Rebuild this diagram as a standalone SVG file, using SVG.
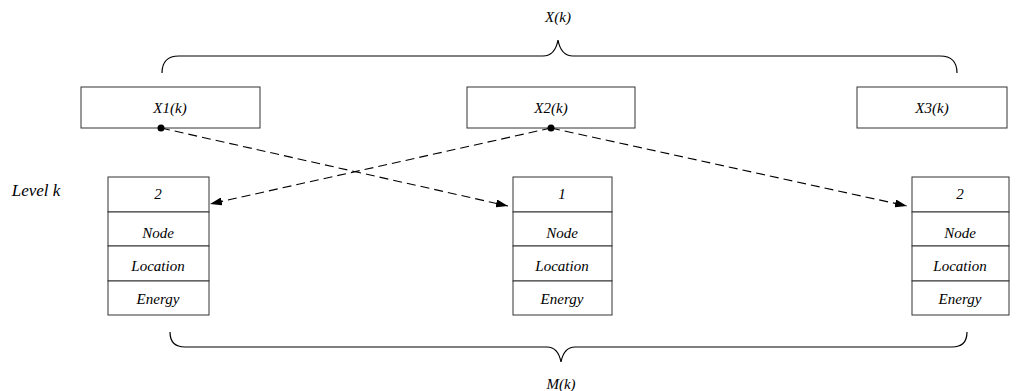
<svg xmlns="http://www.w3.org/2000/svg" width="1028" height="391" viewBox="0 0 1028 391">
<defs>
<style>
text{font-family:"Liberation Serif","Times New Roman",serif;font-style:italic;font-size:15px;fill:#000;text-anchor:middle}
.box{fill:#fff;stroke:#333;stroke-width:1}
.brace{fill:none;stroke:#000;stroke-width:1.2}
.dash{fill:none;stroke:#000;stroke-width:1.1;stroke-dasharray:9,5}
</style>
<marker id="ah" markerWidth="12" markerHeight="8" refX="12" refY="4" orient="auto" markerUnits="userSpaceOnUse">
<path d="M0,0 L12,4 L0,8 Z" fill="#000"/>
</marker>
</defs>
<rect width="1028" height="391" fill="#fff"/>
<g id="braces">
<path class="brace" d="M162,73 Q162,56 179,56 H543 Q555,56 558,40 Q561,56 573,56 H940 Q957,56 957,73"/>
<text x="558" y="22">X(k)</text>
<path class="brace" d="M170,332 Q170,347 185,347 H547 Q558,347 561,362 Q564,347 575,347 H952 Q967,347 967,332"/>
<text x="561" y="389">M(k)</text>
</g>
<text x="36" y="196" style="font-size:17px">Level k</text>
<g id="x1">
<rect class="box" x="81" y="87" width="179" height="41"/>
<text x="170" y="113">X1(k)</text>
</g>
<g id="x2">
<rect class="box" x="467" y="87" width="168" height="41"/>
<text x="551" y="113">X2(k)</text>
</g>
<g id="x3">
<rect class="box" x="857" y="87" width="150" height="41"/>
<text x="932" y="113">X3(k)</text>
</g>
<g id="stack1">
<rect class="box" x="108" y="177" width="101" height="35"/>
<rect class="box" x="108" y="212" width="101" height="34"/>
<rect class="box" x="108" y="246" width="101" height="35"/>
<rect class="box" x="108" y="281" width="101" height="34"/>
<text x="158" y="199">2</text>
<text x="158" y="238">Node</text>
<text x="158" y="271">Location</text>
<text x="158" y="304">Energy</text>
</g>
<g id="stack2">
<rect class="box" x="513" y="177" width="99" height="35"/>
<rect class="box" x="513" y="212" width="99" height="34"/>
<rect class="box" x="513" y="246" width="99" height="35"/>
<rect class="box" x="513" y="281" width="99" height="34"/>
<text x="562" y="199">1</text>
<text x="562" y="238">Node</text>
<text x="562" y="271">Location</text>
<text x="562" y="304">Energy</text>
</g>
<g id="stack3">
<rect class="box" x="912" y="177" width="97" height="35"/>
<rect class="box" x="912" y="212" width="97" height="34"/>
<rect class="box" x="912" y="246" width="97" height="35"/>
<rect class="box" x="912" y="281" width="97" height="34"/>
<text x="960" y="199">2</text>
<text x="960" y="238">Node</text>
<text x="960" y="271">Location</text>
<text x="960" y="304">Energy</text>
</g>
<g id="connectors">
<line class="dash" x1="161" y1="128" x2="508" y2="206" marker-end="url(#ah)"/>
<line class="dash" x1="551" y1="128" x2="210" y2="204" marker-end="url(#ah)"/>
<line class="dash" x1="551" y1="128" x2="907" y2="206" marker-end="url(#ah)"/>
<circle cx="161" cy="128" r="3.5" fill="#000"/>
<circle cx="551" cy="128" r="3.5" fill="#000"/>
</g>
</svg>
